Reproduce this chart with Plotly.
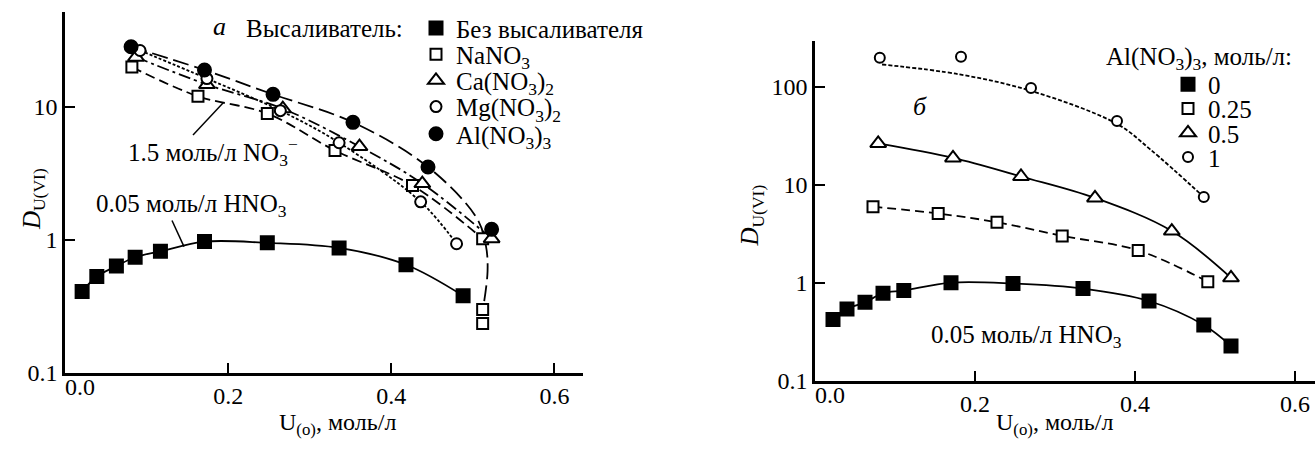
import plotly.graph_objects as go

# ---------------- Panel а (left) ----------------
a_none_x = [0.021, 0.039, 0.063, 0.086, 0.117, 0.171, 0.248, 0.336, 0.418, 0.488]
a_none_y = [0.41, 0.53, 0.635, 0.74, 0.82, 0.97, 0.95, 0.87, 0.65, 0.38]
a_na_x = [0.082, 0.163, 0.248, 0.331, 0.426, 0.512, 0.512, 0.512]
a_na_y = [19.9, 12.0, 8.9, 4.69, 2.56, 1.02, 0.30, 0.235]
a_ca_x = [0.087, 0.174, 0.267, 0.361, 0.438, 0.523]
a_ca_y = [23.6, 14.7, 9.67, 5.02, 2.65, 1.02]
a_mg_x = [0.092, 0.174, 0.264, 0.336, 0.436, 0.480]
a_mg_y = [26.5, 16.3, 9.35, 5.37, 1.93, 0.935]
a_al_x = [0.081, 0.171, 0.255, 0.353, 0.445, 0.523]
a_al_y = [28.3, 18.9, 12.4, 7.64, 3.53, 1.20]
# fitted curve of the top (long-dash) line, bending down to the NaNO3 end points
a_al_fit_x = [0.081, 0.171, 0.255, 0.353, 0.445, 0.505, 0.516, 0.518, 0.513]
a_al_fit_y = [28.3, 18.9, 12.4, 7.64, 3.53, 1.45, 0.90, 0.58, 0.32]

# ---------------- Panel б (right) ----------------
b0_x = [0.0225, 0.040, 0.0625, 0.085, 0.111, 0.170, 0.2475, 0.335, 0.4175, 0.486, 0.52]
b0_y = [0.42, 0.54, 0.63, 0.78, 0.83, 1.0, 0.98, 0.87, 0.65, 0.37, 0.226]
b025_x = [0.0725, 0.154, 0.2275, 0.309, 0.404, 0.491]
b025_y = [5.95, 5.07, 4.13, 3.0, 2.13, 1.02]
b05_x = [0.079, 0.1725, 0.2575, 0.35, 0.446, 0.52]
b05_y = [26.3, 18.7, 12.1, 7.31, 3.36, 1.12]
b1_x = [0.081, 0.1825, 0.27, 0.3775, 0.486]
b1_y = [197, 201, 96.9, 44.5, 7.48]
b1_fit_x = [0.0838, 0.181, 0.27, 0.3775, 0.419, 0.486]
b1_fit_y = [168, 133, 90.4, 41.6, 22.9, 7.48]

x_ticks = [0.2, 0.4, 0.6]
x_ticktext = ["0.2", "0.4", "0.6"]
ya_ticks = [0.1, 1, 10]
yb_ticks = [0.1, 1, 10, 100]

FONT = "Liberation Serif, Times New Roman, DejaVu Serif, serif"
W, H = 1315, 451
TXT = 25
TICK = 24

fig = go.Figure()


def px_x(p):
    return p / W


def px_y(p):
    return 1 - p / H


def line(x, y, dash, xa, ya, width=1.8):
    fig.add_trace(go.Scatter(x=x, y=y, mode="lines", xaxis=xa, yaxis=ya,
                             line=dict(color="black", width=width, dash=dash,
                                       shape="spline", smoothing=1.0),
                             showlegend=False, hoverinfo="skip"))


legends = {}


def pts(x, y, name, symbol, fill, size, xa, ya, legend, lx, ly):
    fig.add_trace(go.Scatter(x=x, y=y, mode="markers", name=name, xaxis=xa, yaxis=ya,
                             marker=dict(symbol=symbol, size=size, color=fill,
                                         line=dict(color="black", width=2)),
                             legend=legend, showlegend=True))
    legends[legend] = dict(x=px_x(lx), y=px_y(ly), xanchor="left", yanchor="middle",
                           font=dict(family=FONT, size=TXT, color="black"),
                           bgcolor="rgba(0,0,0,0)", itemwidth=30)


# left lines
line(a_none_x, a_none_y, "solid", "x", "y")
line(a_na_x[:6], a_na_y[:6], "10px,5px", "x", "y")
line(a_ca_x, a_ca_y, "12px,4px,3px,4px", "x", "y")
line(a_mg_x, a_mg_y, "3px,2px", "x", "y")
line(a_al_fit_x, a_al_fit_y, "16px,6px", "x", "y")

# left markers (one legend per entry, stacked like the reference key)
pts(a_none_x, a_none_y, "Без высаливателя", "square", "black", 13, "x", "y", "legend", 416, 29)
pts(a_na_x, a_na_y, "NaNO<sub>3</sub>", "square", "white", 11, "x", "y", "legend2", 416, 56)
pts(a_ca_x, a_ca_y, "Ca(NO<sub>3</sub>)<sub>2</sub>", "triangle-up", "white", 14, "x", "y", "legend3", 416, 83)
pts(a_mg_x, a_mg_y, "Mg(NO<sub>3</sub>)<sub>2</sub>", "circle", "white", 11, "x", "y", "legend4", 416, 110)
pts(a_al_x, a_al_y, "Al(NO<sub>3</sub>)<sub>3</sub>", "circle", "black", 13, "x", "y", "legend5", 416, 138)

# right lines
line(b0_x, b0_y, "solid", "x2", "y2")
line(b025_x, b025_y, "9px,5px", "x2", "y2")
line(b05_x, b05_y, "solid", "x2", "y2")
line(b1_fit_x, b1_fit_y, "4px,2px", "x2", "y2")

# right markers
pts(b0_x, b0_y, "0", "square", "black", 13, "x2", "y2", "legend6", 1168, 87)
pts(b025_x, b025_y, "0.25", "square", "white", 11, "x2", "y2", "legend7", 1168, 112)
pts(b05_x, b05_y, "0.5", "triangle-up", "white", 14, "x2", "y2", "legend8", 1168, 137)
pts(b1_x, b1_y, "1", "circle", "white", 10, "x2", "y2", "legend9", 1168, 162)

axis_common = dict(showline=True, linecolor="black", linewidth=2.5, ticks="inside",
                   ticklen=10, tickwidth=2, tickcolor="black", showgrid=False,
                   zeroline=False, tickfont=dict(family=FONT, size=TICK, color="black"))

fig.update_layout(
    width=W, height=H, margin=dict(l=0, r=0, t=0, b=0),
    paper_bgcolor="white", plot_bgcolor="white",
    font=dict(family=FONT, size=TXT, color="black"),
    xaxis=dict(domain=[px_x(65), px_x(583)], range=[0, 0.635], tickvals=x_ticks,
               ticktext=x_ticktext, anchor="y", **axis_common),
    yaxis=dict(domain=[px_y(384), px_y(12)], type="log", range=[-1, 1.715],
               tickvals=ya_ticks, ticktext=["0.1", "1", "10"], anchor="x", **axis_common),
    xaxis2=dict(domain=[px_x(815), 1.0], range=[0, 0.625], tickvals=x_ticks,
                ticktext=x_ticktext, anchor="y2", **axis_common),
    yaxis2=dict(domain=[px_y(392), px_y(42)], type="log", range=[-1, 2.467],
                tickvals=yb_ticks, ticktext=["0.1", "1", "10", "100"], anchor="x2",
                **axis_common),
    showlegend=True,
    **legends,
)

ann = []


def text(t, x, y, xanchor="left", size=TXT, angle=0):
    ann.append(dict(text=t, x=px_x(x), y=px_y(y), xref="paper", yref="paper",
                    xanchor=xanchor, yanchor="middle", showarrow=False,
                    textangle=angle, font=dict(family=FONT, size=size, color="black")))


text("<i>а</i>", 220, 27, "center", 26)
text("Высаливатель:", 244, 29)
text("1.5 моль/л NO<sub>3</sub><sup>−</sup>", 126, 157)
text("0.05 моль/л HNO<sub>3</sub>", 94, 212)
text("0.0", 80, 399, "center", TICK)
text("U<sub>(o)</sub>, моль/л", 337, 437, "center", 24)
text("<i>D</i><sub>U(VI)</sub>", 33, 205, "center", 25, -90)

text("<i>б</i>", 920, 110, "center", 26)
text("Al(NO<sub>3</sub>)<sub>3</sub>, моль/л:", 1104, 60)
text("0.05 моль/л HNO<sub>3</sub>", 929, 346)
text("0.0", 830, 407, "center", TICK)
text("U<sub>(o)</sub>, моль/л", 1054, 437, "center", 24)
text("<i>D</i><sub>U(VI)</sub>", 752, 222, "center", 25, -90)

fig.update_layout(annotations=ann)

# pointer lines
fig.add_shape(type="line", xref="paper", yref="paper", x0=px_x(193), y0=px_y(139),
              x1=px_x(223), y1=px_y(106), line=dict(color="black", width=1.5))
fig.add_shape(type="line", xref="paper", yref="paper", x0=px_x(172), y0=px_y(227),
              x1=px_x(184), y1=px_y(254), line=dict(color="black", width=1.5))

fig.write_html("out.html", config={"displayModeBar": False},
               post_script="document.body.style.margin='0px';")
